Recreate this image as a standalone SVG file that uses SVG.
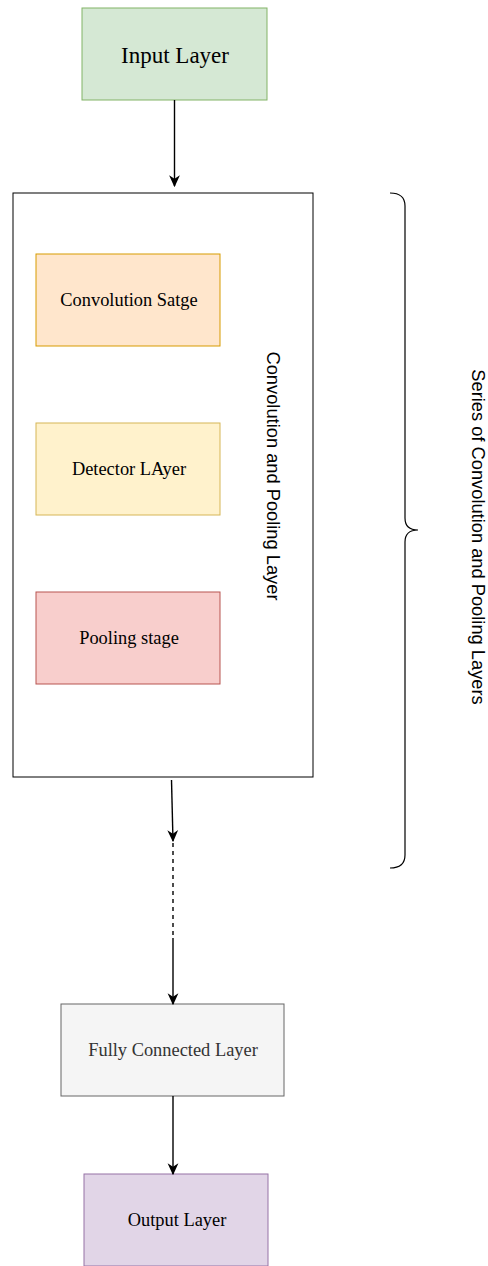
<svg xmlns="http://www.w3.org/2000/svg" width="488" height="1266" viewBox="0 0 488 1266">
  <style>
    .serif { font-family: "Liberation Serif", "Times New Roman", serif; text-anchor: middle; dominant-baseline: central; fill: #000000; }
    .sans { font-family: "Liberation Sans", Arial, Helvetica, sans-serif; text-anchor: middle; dominant-baseline: central; fill: #000000; font-size: 18.3px; }
    .edge { fill: none; stroke: #000000; stroke-width: 1.4; }
  </style>
  <defs>
    <marker id="arrow" viewBox="0 0 10 10" refX="9" refY="5" markerWidth="12" markerHeight="12" markerUnits="userSpaceOnUse" orient="auto">
      <path d="M0,0.5 L10,5 L0,9.5 L3,5 Z" fill="#000000"/>
    </marker>
  </defs>
  <rect width="488" height="1266" fill="#ffffff"/>

  <g id="input-layer">
    <rect x="82" y="8" width="185" height="92" fill="#d5e8d4" stroke="#82b366"/>
    <text class="serif" x="175" y="55" font-size="23">Input Layer</text>
  </g>

  <g id="conv-pool-layer">
    <rect x="13" y="193" width="300" height="584" fill="#ffffff" stroke="#000000"/>
    <text class="sans" transform="translate(273,476) rotate(90)">Convolution and Pooling Layer</text>
  </g>

  <g id="convolution-stage">
    <rect x="36" y="254" width="184" height="92" fill="#ffe6cc" stroke="#d79b00"/>
    <text class="serif" x="129" y="300" font-size="18.4">Convolution Satge</text>
  </g>

  <g id="detector-layer">
    <rect x="36" y="423" width="184" height="92" fill="#fff2cc" stroke="#d6b656"/>
    <text class="serif" x="129" y="469" font-size="18.4">Detector LAyer</text>
  </g>

  <g id="pooling-stage">
    <rect x="36" y="592" width="184" height="92" fill="#f8cecc" stroke="#b85450"/>
    <text class="serif" x="129" y="638" font-size="18.4">Pooling stage</text>
  </g>

  <g id="series-brace">
    <path d="M390,193 Q405,193 405,206 L405,518 Q405,530 418,530 Q405,530 405,542 L405,855 Q405,868 390,868" fill="none" stroke="#000000" stroke-width="1.2"/>
    <text class="sans" transform="translate(478,537) rotate(90)">Series of Convolution and Pooling Layers</text>
  </g>

  <g id="fully-connected-layer">
    <rect x="61" y="1004" width="223" height="92" fill="#f5f5f5" stroke="#666666"/>
    <text class="serif" x="173" y="1050" font-size="18.4" style="fill:#333333">Fully Connected Layer</text>
  </g>

  <g id="output-layer">
    <rect x="84" y="1174" width="184" height="92" fill="#e1d5e7" stroke="#9673a6"/>
    <text class="serif" x="177" y="1220" font-size="18.4">Output Layer</text>
  </g>

  <g id="connectors">
    <line class="edge" x1="174.5" y1="100" x2="174.5" y2="186" marker-end="url(#arrow)"/>
    <line class="edge" x1="171.5" y1="780" x2="173" y2="841" marker-end="url(#arrow)"/>
    <line class="edge" x1="173" y1="843" x2="173" y2="938" stroke-dasharray="4 4"/>
    <line class="edge" x1="173" y1="938" x2="173" y2="1004" marker-end="url(#arrow)"/>
    <line class="edge" x1="173" y1="1096" x2="173" y2="1174" marker-end="url(#arrow)"/>
  </g>
</svg>
